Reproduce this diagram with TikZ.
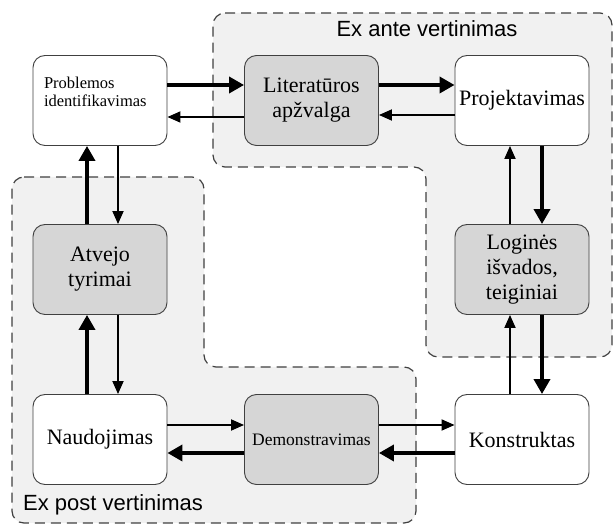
\documentclass[tikz,border=0pt]{standalone}
\usepackage{fontspec}
\setmainfont{Liberation Serif}
\newfontfamily\arialf{Liberation Sans}
\usetikzlibrary{arrows.meta}
\definecolor{regionfill}{HTML}{F1F1F1}
\definecolor{grayfill}{HTML}{D6D6D6}
\definecolor{edgecol}{HTML}{404040}
\tikzset{
  region/.style={draw=edgecol, line width=1.2pt, dash pattern=on 10pt off 6pt, fill=regionfill, rounded corners=12pt},
  whitebox/.style={draw=edgecol, line width=0.9pt, fill=white, rounded corners=12pt, minimum width=134pt, minimum height=90pt, inner sep=0pt, align=center, font=\fontsize{22}{25}\selectfont},
  graybox/.style={whitebox, fill=grayfill},
  thickarr/.style={line width=3.6pt, -{Triangle[length=15pt,width=16pt]}},
  thinarr/.style={line width=1.8pt, -{Triangle[length=13pt,width=11pt]}},
  reglabel/.style={font=\arialf\fontsize{22}{25}\selectfont, anchor=base, inner sep=0pt}
}
\begin{document}
\begin{tikzpicture}[x=1pt,y=-1pt]
\useasboundingbox (0,0) rectangle (614,526);
% regions
\path[region] (213,13) -- (612,13) -- (612,357) -- (426,357) -- (426,167) -- (213,167) -- cycle;
\path[region] (12,177) -- (204,177) -- (204,367) -- (416,367) -- (416,523) -- (12,523) -- cycle;
\node[reglabel] (antelbl) at (427,37) {Ex ante vertinimas};
\node[reglabel] (postlbl) at (113,511) {Ex post vertinimas};
% nodes
\node[whitebox, text width=112pt, align=left, font=\fontsize{16.5}{18}\selectfont] (prob) at (100,100.5) {Problemos\\identifikavimas\\\mbox{}};
\node[graybox] (lit) at (311.5,100.5) {Literatūros\\apžvalga};
\node[whitebox] (proj) at (522,100.5) {Projektavimas};
\node[graybox] (log) at (522,269.5) {Loginės\\išvados,\\teiginiai};
\node[graybox] (atv) at (100,269.5) {Atvejo\\tyrimai};
\node[whitebox] (nau) at (100,439.5) {Naudojimas};
\node[graybox, font=\fontsize{17.5}{20}\selectfont] (dem) at (311.5,439.5) {Demonstravimas};
\node[whitebox] (kon) at (522,439.5) {Konstruktas};
% top row
\draw[thickarr] ([yshift=15.5pt]prob.east) -- ([yshift=15.5pt]lit.west);
\draw[thinarr] ([yshift=-16.5pt]lit.west) -- ([yshift=-16.5pt]prob.east);
\draw[thickarr] ([yshift=15.5pt]lit.east) -- ([yshift=15.5pt]proj.west);
\draw[thinarr] ([yshift=-14.5pt]proj.west) -- ([yshift=-14.5pt]lit.east);
% right column
\draw[thickarr] ([xshift=20pt]proj.south) -- ([xshift=20pt]log.north);
\draw[thinarr] ([xshift=-12pt]log.north) -- ([xshift=-12pt]proj.south);
\draw[thickarr] ([xshift=20pt]log.south) -- ([xshift=20pt]kon.north);
\draw[thinarr] ([xshift=-12pt]kon.north) -- ([xshift=-12pt]log.south);
% bottom row
\draw[thickarr] ([yshift=-13.5pt]kon.west) -- ([yshift=-13.5pt]dem.east);
\draw[thinarr] ([yshift=14.5pt]dem.east) -- ([yshift=14.5pt]kon.west);
\draw[thickarr] ([yshift=-13.5pt]dem.west) -- ([yshift=-13.5pt]nau.east);
\draw[thinarr] ([yshift=14.5pt]nau.east) -- ([yshift=14.5pt]dem.west);
% left column
\draw[thickarr] ([xshift=-13pt]nau.north) -- ([xshift=-13pt]atv.south);
\draw[thinarr] ([xshift=18pt]atv.south) -- ([xshift=18pt]nau.north);
\draw[thickarr] ([xshift=-13pt]atv.north) -- ([xshift=-13pt]prob.south);
\draw[thinarr] ([xshift=18pt]prob.south) -- ([xshift=18pt]atv.north);
\end{tikzpicture}
\end{document}
